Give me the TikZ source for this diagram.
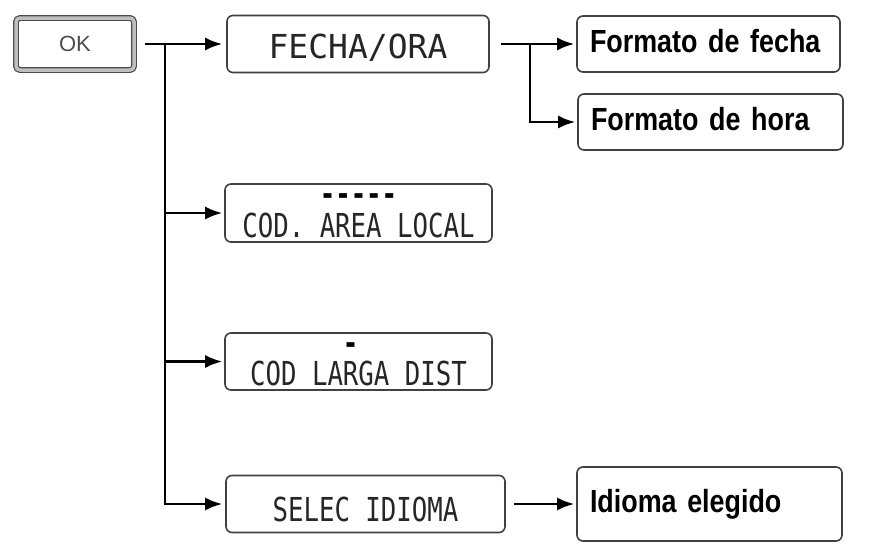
\documentclass[tikz,border=0pt]{standalone}
\usepackage{fontspec}
\setmainfont{Liberation Sans}
\newfontfamily\lcdfont[FakeStretch=0.78]{DejaVu Sans Mono}
\newfontfamily\lcdwide{DejaVu Sans Mono}
\newfontfamily\narrowbold[FakeStretch=0.84]{Liberation Sans}
\usetikzlibrary{arrows.meta}

\begin{document}
\begin{tikzpicture}[x=1pt, y=-1pt,
    arr/.style={-{Latex[length=17pt,width=13pt]}, line width=2.4pt},
    okbtn/.style={draw=gray!60!black, double=gray!50, double distance=3.5pt, line width=1.2pt,
      rounded corners=4pt, fill=white, minimum width=118pt, minimum height=52pt,
      font=\fontsize{22}{24}\selectfont, text=gray!60!black},
    lcdbox/.style={draw=gray!50!black, line width=1.6pt, rounded corners=6pt, fill=white,
      minimum width=267pt, minimum height=57pt, inner sep=0pt,
      font=\lcdfont\fontsize{33}{36}\selectfont, text=black!85},
    lcdmark/.style={inner sep=0pt, font=\lcdfont\bfseries\fontsize{33}{36}\selectfont, text=black},
    fmtbox/.style={draw=gray!50!black, line width=1.6pt, rounded corners=6pt, fill=white,
      inner xsep=13pt, text width=237pt, align=left, minimum height=56pt,
      text height=23pt, text depth=6pt,
      font=\narrowbold\bfseries\fontsize{32}{34}\selectfont}]
  \useasboundingbox (0,0) rectangle (895,546);

  % boton y menu principal
  \node[okbtn] (ok) at (75,44) {OK};
  \node[lcdbox, font=\lcdwide\fontsize{33}{36}\selectfont, minimum width=262pt,
    text height=42pt, text depth=13pt] (fecha) at (358,44) {FECHA/ORA};
  \node[lcdbox, text height=53pt, text depth=5pt] (area) at (358.5,213) {COD. AREA LOCAL};
  \node[lcdbox, text height=52pt, text depth=5pt] (larga) at (358.5,361.5) {COD LARGA DIST};
  \node[lcdbox, minimum width=279pt, text height=46pt, text depth=11pt] (idioma) at (365.5,504) {SELEC IDIOMA};

  % marcas del visor
  \node[lcdmark] (areadots) at ([yshift=-16pt]area.north) {-{}-{}-{}-{}-};
  \node[lcdmark] (largadot) at ([xshift=-8pt,yshift=-16pt]larga.north) {-};

  % submenus
  \node[fmtbox] (fmtfecha) at (708.5,44) {Formato de fecha};
  \node[fmtbox, text width=239pt] (fmthora) at (710.5,122) {Formato de hora};
  \node[fmtbox, text width=239pt, minimum height=74pt] (elegido) at (709.5,504) {Idioma elegido};

  \coordinate (trunk) at (165,44);
  \coordinate (split) at (530,44);

  \draw[arr, shorten <=10pt, shorten >=4pt] (ok) -- (fecha);
  \draw[arr, shorten >=2pt] (trunk) |- (area);
  \draw[arr, shorten >=2pt] (trunk) |- (larga);
  \draw[arr, shorten >=3pt] (trunk) |- (idioma);
  \draw[arr, shorten <=11pt, shorten >=2pt] (fecha) -- (fmtfecha);
  \draw[arr, shorten >=2pt] (split) |- (fmthora);
  \draw[arr, shorten <=8pt, shorten >=2pt] (idioma) -- (elegido);
\end{tikzpicture}
\end{document}
